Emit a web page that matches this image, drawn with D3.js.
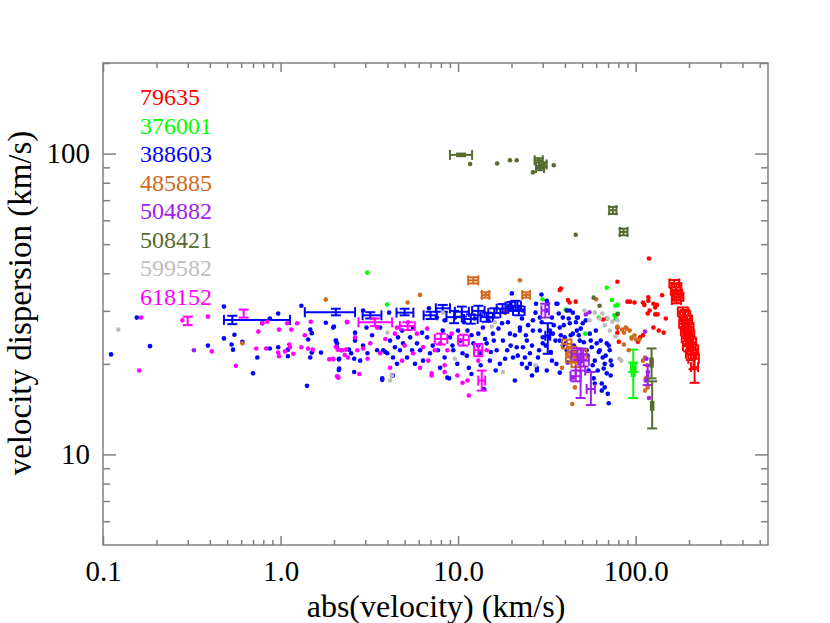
<!DOCTYPE html>
<html lang="en">
<head>
<meta charset="UTF-8" />
<title>velocity dispersion</title>
<script src="https://d3js.org/d3.v7.min.js"></script>
<style>
  body { margin: 0; background: #fff; }
  svg { display: block; }
  text { font-family: "Liberation Serif", "DejaVu Serif", serif; }
</style>
</head>
<body>
<svg width="830" height="623"></svg>
<script>
// Series names / colours (legend order = draw order)
const names = ["79635", "376001", "388603", "485885", "504882", "508421", "599582", "618152"];
const colors = ["#ff0000", "#00ff00", "#0000ff", "#d2691e", "#a020f0", "#556b2f", "#bebebe", "#ff00ff"];

// Tick labels
const xMajor = [0.1, 1, 10, 100];
const xMajorLabels = ["0.1", "1.0", "10.0", "100.0"];
const yMajor = [10, 100];
const yMajorLabels = ["10", "100"];

// dots: [abs(velocity), dispersion]
// errs: [x, y, xlo, xhi, ylo, yhi]
const redDots = [[119,44.8],[38,35.6],[79,37.5],[41.6,32.6],[42.5,32.0],[46,32.2],[65.6,28.1],[69,28.3],[79,26.4],[79,25.4],[80.5,23.7],[90,32.2],[93,32.2],[98.6,32.0],[110,32.0],[112,31.4],[118,32.4],[118,33.3],[126,31.7],[132,31.4],[129,30.8],[120,30.1],[117,29.4],[129,29.2],[133,29.2],[148,28.3],[141,33.8],[126,26.4],[135,25.8],[144,25.4],[110,24.9],[103,23.7],[106,24.5],[18.4,29.6],[37.4,35.2]];
const redErrs = [[165,37.0,155,176,36.0,38.0],[170,36.0,160,181,35.0,37.0],[168,35.0,158,179,34.0,36.0],[172,34.2,162,183,33.3,35.1],[175,33.4,165,186,32.5,34.3],[170,32.6,160,180,31.8,33.4],[185,29.8,173,198,28.6,30.8],[190,29.0,178,203,27.8,30.2],[195,28.0,182,208,27.0,29.0],[188,27.2,176,201,26.2,28.2],[198,26.5,185,212,25.5,27.5],[192,25.7,180,205,24.7,26.7],[200,25.0,187,214,24.0,26.0],[195,24.3,182,209,23.3,25.3],[205,23.6,192,219,22.7,24.5],[198,22.9,185,212,22.0,23.8],[210,22.3,196,225,21.4,23.2],[205,21.6,192,219,20.6,22.6],[212,20.8,198,227,19.2,22.4],[215,19.5,205,225,17.3,21.7]];

const greenDots = [[3.08,40.2],[3.98,31.5],[29.9,32.8],[68.9,35.8],[73.5,32.6],[77,31.2],[79,31.4],[79.5,29.4],[76,29.0],[77,28.2],[40.4,30.3],[41,30.1],[52,25.2],[95,24.5],[62,28.5]];
const greenErrs = [[97,18.8,95,99,15.4,22.3],[97,19.5,94,100,18.8,20.2]];

const blueDots = [[0.111,21.5],[0.155,28.5],[0.184,22.9],[0.39,23.0],[0.48,31.0],[0.79,27.3],[0.87,28.3],[0.97,29.4],[0.55,25.0],[0.53,23.2],[0.54,22.3],[0.48,24.3],[0.61,23.7],[0.70,18.6],[0.74,21.0],[0.87,22.5],[0.97,22.7],[1.10,22.3],[1.10,21.2],[1.31,31.2],[1.47,26.0],[1.50,25.3],[1.43,24.1],[1.5,21.8],[1.47,21.0],[1.69,21.8],[1.8,27.4],[2.0,26.6],[1.41,16.9],[2.05,23.9],[2.08,23.4],[2.13,20.7],[2.13,19.1],[2.43,22.3],
  [1.98,26.4],[2.05,23.9],[2.08,22.7],[2.14,20.8],[2.14,19.3],[2.5,21.7],[2.6,20.8],[2.63,25.4],[2.63,23.9],[2.81,20.5],[2.92,23.0],[2.92,30.1],[3.05,26.4],[3.09,21.7],[3.28,24.9],[3.50,22.2],[3.64,26.4],[3.74,17.9],[3.79,22.2],[3.89,21.9],[3.99,21.7],[4.09,29.6],[4.14,23.9],[4.25,18.3],[4.3,21.0],[4.41,22.7],[4.53,20.0],[4.59,24.5],[4.71,22.2],[4.84,25.8],[4.9,23.4],[5.16,21.0],[5.37,24.5],[5.51,22.2],[5.58,26.4],[5.72,20.0],[5.87,23.4],[6.11,22.2],[6.27,25.4],[6.35,20.5],[6.7,24.5],[6.85,30.6],[6.95,21.7],[7.2,23.0],[7.6,28.5],[7.7,22.2],[7.92,19.4],[8.2,25.8],[8.4,21.0],[8.7,18.0],[9.0,24.5],[9.4,22.2],[9.6,28.5],[9.9,20.0],[10.3,23.9],[10.6,21.7],[11.3,25.8],[11.5,19.4],[12.2,23.4],[13.0,25.2],[13.3,21.7],[13.8,26.4],[14.5,23.4],[15.1,20.5],[15.7,25.2],[16.5,22.2],[17.2,20.0],[17.7,27.3],[17.9,23.9],[18.9,22.2],[19.6,25.2],[20.1,34.3],[20.4,21.0],[21.4,22.7],[22.3,26.4],[22.9,20.0],[23.2,30.1],[24.4,23.9],[25.4,21.7],[26.4,25.8],[27.8,19.4],[28.9,28.5],[30.0,23.4],[31.6,32.4],[32.9,25.8],[33.8,20.5],[35.8,31.7],[37.4,23.9],[38.9,28.5],[41.0,22.2],[42.6,30.1],[44.3,25.2],[46.7,28.5],
  [22.3,25.8],[23.2,22.7],[23.8,21.0],[25.4,20.0],[26.4,27.9],[27.5,31.7],[28.2,21.0],[28.9,25.8],[30.0,24.5],[31.6,30.1],[32.0,31.7],[33.8,28.5],[34.2,25.2],[35.8,20.0],[36.3,31.7],[37.4,26.4],[38.9,23.0],[39.9,24.5],[41.0,30.1],[42.6,27.3],[44.3,29.6],[46.7,25.8],[47.3,28.5],[48.5,23.9],[50.4,27.3],[53.0,22.2],[55.2,25.2],[56.6,22.7],[58.9,20.5],[60.4,23.4],[61.2,19.0],[62.8,22.2],[64.5,17.2],[65.3,21.0],[67.0,20.0],[68.8,23.4],[68.8,18.6],[69.7,15.9],[70.6,14.8],[71.5,22.2],[72.4,20.5],[67.0,16.7],[64.5,16.3],
  [2.6,18.8],[3.74,17.7],[4.3,18.3],[8.9,17.9],[11.9,18.5],[27.8,19.0],[58.9,17.2],[14,16.5],[20.9,17.6],[29.5,34.0],
  [22.9,28.3],[24.1,24.9],[24.8,26.9],[26.1,23.0],[27.3,29.6],[28.6,22.2],[29.6,27.5],[31.2,23.0],[32.5,24.5],[33.3,21.9],[34.6,26.9],[35.4,23.9],[36.9,29.4],[37.9,24.9],[39.4,26.9],[40.4,23.4],[42.0,28.3],[43.1,24.9],[44.9,23.0],[46.1,27.5],[47.9,24.9],[49.1,26.2],[51.1,23.6],[52.4,27.9],[53.7,21.3],[55.9,23.9],[57.3,19.8],[59.7,25.8],[62.0,21.9],[63.6,23.9],[66.1,19.3],[67.9,21.3],[70.6,23.0],[72.4,18.3],[73.3,19.8],[58.1,17.9],[54.4,19.0],[49.7,20.5],[45.5,21.9],[41.5,20.2],[37.4,18.7],[31.6,19.0],[26.1,18.3],[24.4,19.4],
  [8.4,27.9],[9.3,23.0],[10.0,25.8],[10.8,27.5],[11.2,21.3],[11.9,24.9],[12.4,28.3],[13.0,23.0],[13.4,19.8],[14.2,24.2],[14.8,27.9],[15.3,21.9],[15.9,23.9],[16.3,19.0],[16.9,26.2],[18.4,20.8],[19.1,27.5],[19.8,23.0],[20.9,24.9],[21.7,21.3]];
const blueErrs = [[0.535,28.0,0.48,1.13,27.1,28.9],[2.05,29.7,1.37,2.63,29.0,30.5],[3.2,29.0,2.9,3.7,28.3,29.7],[5.0,29.6,4.5,5.6,29.0,30.5],[7.0,29.0,6.4,7.6,28.2,29.8],[8.2,30.6,7.5,9.0,29.8,31.4],[9.5,28.6,8.6,10.5,27.3,30.0],[10.5,29.8,9.6,11.5,28.7,31.0],[11.8,28.2,10.8,12.9,27.2,29.2],[13.0,30.0,12.0,14.1,29.0,31.2],[14.5,28.6,13.4,15.7,27.6,29.6],[16.0,29.5,14.8,17.3,28.5,30.6],[17.8,30.5,16.5,19.2,29.5,31.6],[20.0,31.0,18.5,21.6,30.0,32.1],[21.0,31.2,19.6,22.6,30.2,32.4],[22.0,30.0,20.4,23.7,29.0,31.1],[32.0,24.8,31.0,33.0,21.6,27.3]];

const orangeDots = [[1.8,32.7],[0.61,23.4],[6.1,33.9],[5.2,32.0],[22.3,37.9],[92.7,25.8],[98.6,24.9],[89,26.2],[86,23.2],[91.5,22.2],[105,24.1],[95,24.3],[100.5,24.1],[113,21.0],[116,19.8],[110,20.5],[114,17.9],[117,16.7],[113,16.3],[44,14.7],[45.5,16.7],[38.5,19.4],[79,26.6],[84,26.0],[88,26.4],[86,25.4],[60,32.8]];
const orangeErrs = [[12.2,37.9,11.4,13.0,37.0,38.8],[14.3,33.9,13.6,15.0,33.2,34.6],[24.2,33.9,23.0,25.4,33.2,34.6],[41,23.3,38.5,43.5,22.5,24.1],[44,22.0,41.5,46.5,21.2,22.8],[43,21.0,40.5,45.5,20.2,21.8],[46,20.3,43.5,48.5,19.5,21.1],[50,21.5,47,53,20.7,22.3]];

const purpleDots = [[0.325,22.2],[52.5,29.2],[55,29.7],[113,25.6],[115,20.8],[117,18.8],[114,17.6],[119,15.4],[44.3,18.0]];
const purpleErrs = [[31,30.1,29.5,32.5,28.5,31.7],[49,19.0,46,52,15.4,22.5],[56,16.5,53,59,14.6,18.8],[47,21.5,43.5,50.5,20.6,22.5],[51,20.5,47.5,54.5,19.6,21.5],[46,18.2,43,49,17.5,19.0],[117,18.3,116,118,17.0,19.8]];

const oliveDots = [[11.7,92.3],[16.6,92.7],[19.6,95.0],[21.4,95.0],[26.4,86.6],[34.6,91.4],[46,53.7],[58,33.2],[62.7,31.2],[79,29.2]];
const oliveErrs = [[10.4,99,9.0,12.0,98,100],[28.5,95,27,30,93.5,96.5],[30,92,28.5,31.5,90.5,93.5],[29,89.5,27.5,30.5,88,91],[74.5,64.8,71,78,63,66.5],[85.5,54.9,81.5,90,53.5,56.3],[123,20.2,121,125,17.9,22.5],[124,14.5,122,126,12.2,17.5]];

const greyDots = [[0.122,26.0],[8.2,29.6],[9.6,20.8],[4.0,25.4],[4.25,18.3],[4.14,17.6],[17.9,18.8],[65,29.4],[69.7,28.3],[74,27.6],[79,27.9],[67,26.9],[71.5,25.8],[62.8,28.3],[58.9,29.6],[55,27.9],[51.5,30.1],[77,24.7],[81,20.8],[83,20.5],[27.3,19.8],[15.5,26.6],[16.1,27.5]];

const magentaDots = [[0.164,28.5],[0.16,19.0],[0.28,27.9],[0.39,28.7],[0.41,22.0],[0.56,19.7],[0.75,25.6],[0.79,27.3],[0.84,27.6],[0.73,22.5],[0.83,22.5],[0.98,26.0],[0.97,21.8],[0.98,21.2],[1.06,22.0],[1.12,23.2],[1.13,22.7],[1.18,21.6],[1.15,26.0],[1.09,27.3],[1.24,27.3],[1.37,24.9],[1.31,22.7],[1.43,22.5],[1.52,22.3],[1.48,27.6],[2.05,22.8],[2.1,22.3],[1.88,20.7],[1.98,20.7],[2.1,18.1],[2.34,22.3],[2.19,22.2],[2.3,21.4],[2.4,21.0],[2.37,27.6],
  [1.98,20.8],[2.12,18.0],[2.23,22.2],[2.37,27.5],[2.63,24.5],[2.71,22.2],[2.92,22.5],[3.09,20.8],[3.2,23.4],[3.5,26.4],[3.64,21.7],[3.89,24.2],[4.14,19.4],[4.41,25.2],[4.53,26.4],[4.84,20.5],[5.0,23.0],[5.23,27.5],[5.58,21.7],[5.87,25.2],[6.11,19.4],[6.35,22.7],[6.7,26.2],[6.8,20.5],[7.1,18.6],[7.4,22.2],[7.92,23.4],[8.4,19.8],[8.7,22.2],[9.2,25.2],[9.9,18.3],[10.6,17.3],[11.3,17.6],[11.5,15.7],[13.0,20.5],[14.5,22.2],[2.08,18.2],[2.78,18.5],[7.1,18.3],[8.4,18.8]];
const magentaErrs = [[0.30,27.8,0.30,0.30,26.9,28.7],[0.62,29.4,0.62,0.62,28.5,30.3],[3.4,27.5,2.75,4.25,26.7,28.3],[5.2,26.7,4.7,5.7,25.9,27.5],[8.0,24.2,7.4,8.7,23.2,25.2],[10.7,24.0,10.0,11.5,23.0,25.0],[13.0,22.2,12.3,13.7,21.2,23.3],[13.6,17.6,13.0,14.2,16.3,19.0]];

const dotSets = [redDots, greenDots, blueDots, orangeDots, purpleDots, oliveDots, greyDots, magentaDots];
const errSets = [redErrs, greenErrs, blueErrs, orangeErrs, purpleErrs, oliveErrs, [], magentaErrs];

// Layout
const svg = d3.select("svg");
const L = 103, R = 768, T = 63, B = 545;
const x = d3.scaleLog().domain([0.1, 557]).range([L, R]);
const y = d3.scaleLog().domain([5, 200]).range([B, T]);

const axisColor = "#808080";
const fontPx = 29;

// minor tick positions
const xMinor = [];
for (let p = -1; p <= 2; p++) for (let k = 2; k <= 9; k++) {
  const v = k * Math.pow(10, p);
  if (v <= 557) xMinor.push(v);
}
const yMinor = [6, 7, 8, 9, 20, 30, 40, 50, 60, 70, 80, 90, 200];

function styleAxis(g) {
  g.select(".domain").remove();
  g.selectAll(".tick line").attr("stroke", axisColor).attr("stroke-width", 1.5);
  g.selectAll(".tick text").attr("fill", "#000").style("font-size", fontPx + "px")
    .style("font-family", '"Liberation Serif", "DejaVu Serif", serif');
}

// bottom
svg.append("g").attr("transform", `translate(0,${B})`)
  .call(d3.axisBottom(x).tickValues(xMajor).tickSize(-9).tickPadding(15)
    .tickFormat((d, i) => xMajorLabels[i]))
  .call(styleAxis);
svg.append("g").attr("transform", `translate(0,${B})`)
  .call(d3.axisBottom(x).tickValues(xMinor).tickSize(-5).tickFormat(""))
  .call(styleAxis);
// top
svg.append("g").attr("transform", `translate(0,${T})`)
  .call(d3.axisTop(x).tickValues(xMajor).tickSize(-9).tickFormat(""))
  .call(styleAxis);
svg.append("g").attr("transform", `translate(0,${T})`)
  .call(d3.axisTop(x).tickValues(xMinor).tickSize(-5).tickFormat(""))
  .call(styleAxis);
// left
svg.append("g").attr("transform", `translate(${L},0)`)
  .call(d3.axisLeft(y).tickValues(yMajor).tickSize(-13).tickPadding(13)
    .tickFormat((d, i) => yMajorLabels[i]))
  .call(styleAxis);
svg.append("g").attr("transform", `translate(${L},0)`)
  .call(d3.axisLeft(y).tickValues(yMinor).tickSize(-7).tickFormat(""))
  .call(styleAxis);
// right
svg.append("g").attr("transform", `translate(${R},0)`)
  .call(d3.axisRight(y).tickValues(yMajor).tickSize(-13).tickFormat(""))
  .call(styleAxis);
svg.append("g").attr("transform", `translate(${R},0)`)
  .call(d3.axisRight(y).tickValues(yMinor).tickSize(-7).tickFormat(""))
  .call(styleAxis);

// frame
svg.append("rect").attr("x", L).attr("y", T).attr("width", R - L).attr("height", B - T)
  .attr("fill", "none").attr("stroke", axisColor).attr("stroke-width", 1.5);

// titles
svg.append("text").attr("x", 436).attr("y", 617).attr("text-anchor", "middle")
  .style("font-size", "32px").text("abs(velocity) (km/s)");
svg.append("text").attr("transform", "translate(31,303) rotate(-90)").attr("text-anchor", "middle")
  .style("font-size", "33px").text("velocity dispersion (km/s)");

// data
const capW = 5, capH = 5;
names.forEach((name, i) => {
  const c = colors[i];
  const g = svg.append("g");
  g.selectAll("circle").data(dotSets[i]).enter().append("circle")
    .attr("cx", d => x(d[0])).attr("cy", d => y(d[1])).attr("r", 2.3).attr("fill", c);

  const eg = g.selectAll("g.err").data(errSets[i]).enter().append("g").attr("class", "err")
    .attr("stroke", c).attr("stroke-width", 2).attr("fill", "none");
  // vertical bar
  eg.append("line").attr("x1", d => x(d[0])).attr("x2", d => x(d[0]))
    .attr("y1", d => y(d[4])).attr("y2", d => y(d[5]));
  eg.append("line").attr("x1", d => x(d[0]) - capW).attr("x2", d => x(d[0]) + capW)
    .attr("y1", d => y(d[4])).attr("y2", d => y(d[4]));
  eg.append("line").attr("x1", d => x(d[0]) - capW).attr("x2", d => x(d[0]) + capW)
    .attr("y1", d => y(d[5])).attr("y2", d => y(d[5]));
  // horizontal bar
  const hz = eg.filter(d => d[3] > d[2]);
  hz.append("line").attr("x1", d => x(d[2])).attr("x2", d => x(d[3]))
    .attr("y1", d => y(d[1])).attr("y2", d => y(d[1]));
  hz.append("line").attr("x1", d => x(d[2])).attr("x2", d => x(d[2]))
    .attr("y1", d => y(d[1]) - capH).attr("y2", d => y(d[1]) + capH);
  hz.append("line").attr("x1", d => x(d[3])).attr("x2", d => x(d[3]))
    .attr("y1", d => y(d[1]) - capH).attr("y2", d => y(d[1]) + capH);
});

// legend
svg.append("g").selectAll("text").data(names).enter().append("text")
  .attr("x", 140).attr("y", (d, i) => 105 + i * 28.5)
  .attr("fill", (d, i) => colors[i]).style("font-size", "24px").text(d => d);
</script>
</body>
</html>
